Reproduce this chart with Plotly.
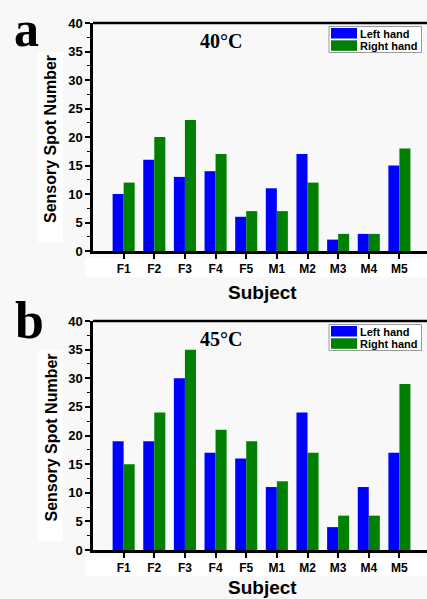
import plotly.graph_objects as go

subjects = ["F1", "F2", "F3", "F4", "F5", "M1", "M2", "M3", "M4", "M5"]
left_40 = [10, 16, 13, 14, 6, 11, 17, 2, 3, 15]
right_40 = [12, 20, 23, 17, 7, 7, 12, 3, 3, 18]
left_45 = [19, 19, 30, 17, 16, 11, 24, 4, 11, 17]
right_45 = [15, 24, 35, 21, 19, 12, 17, 6, 6, 29]
y_ticks = [0, 5, 10, 15, 20, 25, 30, 35, 40]
series_names = ["Left hand", "Right hand"]
panel_titles = ["40°C", "45°C"]
panel_letters = ["a", "b"]

BLUE = "#0000FF"
GREEN = "#008000"
COLORS = [BLUE, GREEN]
W, H = 427, 599
BG = "#f8f8f8"

fig = go.Figure()
for (ax, ay), (l, r) in zip([("x", "y"), ("x2", "y2")], [(left_40, right_40), (left_45, right_45)]):
    for vals, name, col in zip((l, r), series_names, COLORS):
        fig.add_trace(go.Bar(x=subjects, y=vals, name=name, marker_color=col,
                             marker_line_width=0, xaxis=ax, yaxis=ay, showlegend=False))

def py(px):
    return 1 - px / H

def px_x(px):
    return px / W

xdom = [93 / W, 1.0]
tickfont = dict(family="Liberation Sans", size=13, color="black", weight="bold")
xtickfont = dict(family="Liberation Sans", size=12, color="black", weight="bold")
title_font = dict(family="Liberation Sans", size=16, color="black", weight="bold")
subj_font = dict(family="Liberation Sans", size=19, color="black", weight="bold")

def xaxis(anchor):
    return dict(domain=xdom, anchor=anchor, range=[-1, 9.9], showline=True,
                linecolor="black", linewidth=2.5, ticks="outside", ticklen=5,
                tickwidth=1.5, tickcolor="black", tickfont=xtickfont,
                showgrid=False, zeroline=False, automargin=False)

def yaxis(anchor, dom):
    return dict(domain=dom, anchor=anchor, range=[0, 40], tickvals=y_ticks,
                showline=True, linecolor="black", linewidth=2.5, ticks="outside",
                ticklen=5, tickwidth=1.5, tickcolor="black", tickfont=tickfont,
                showgrid=False, zeroline=False, automargin=False,
                minor=dict(dtick=2.5, ticks="outside", ticklen=3, tickcolor="black", tickwidth=1))

panels = [dict(top=23, bottom=251), dict(top=321, bottom=550)]

fig.update_layout(
    width=W, height=H,
    margin=dict(l=0, r=0, t=0, b=0, autoexpand=False),
    paper_bgcolor=BG,
    plot_bgcolor=BG,
    barmode="group", bargap=0.28, bargroupgap=0,
    xaxis=xaxis("y"),
    yaxis=yaxis("x", [py(panels[0]["bottom"]), py(panels[0]["top"])]),
    xaxis2=xaxis("y2"),
    yaxis2=yaxis("x2", [py(panels[1]["bottom"]), py(panels[1]["top"])]),
    showlegend=False,
)

def note(text, x, y, font, xanchor="center", yanchor="middle", textangle=0):
    fig.add_annotation(text=text, xref="paper", yref="paper", x=px_x(x), y=py(y),
                       xanchor=xanchor, yanchor=yanchor, textangle=textangle,
                       showarrow=False, font=font, borderpad=0)

for i, p in enumerate(panels):
    t, b = p["top"], p["bottom"]
    xr = "x domain" if i == 0 else "x2 domain"
    yr = "y domain" if i == 0 else "y2 domain"
    # white label backgrounds
    fig.add_shape(type="rect", xref="paper", yref="paper", layer="below",
                  x0=px_x(38), x1=px_x(63), y0=py(t + 220), y1=py(t + 29),
                  fillcolor="white", line_width=0)
    fig.add_shape(type="rect", xref="paper", yref="paper", layer="below",
                  x0=px_x(85), x1=1, y0=py(b + 26), y1=py(b + 7),
                  fillcolor="white", line_width=0)
    # top frame line
    fig.add_shape(type="line", xref=xr, yref=yr, x0=0, x1=1, y0=1, y1=1,
                  line=dict(color="black", width=2.5))
    # axis titles
    note("Sensory Spot Number", 51, (t + b) / 2 + 2, title_font, textangle=-90)
    if i == 0:
        note("Subject", 262, b + 41, subj_font)
    else:
        note("Subject", 262, 599, subj_font, yanchor="bottom")
    # temperature label
    note(panel_titles[i], 221, t + 18,
         dict(family="Liberation Serif", size=20, color="black", weight="bold"))
    # panel letter
    if i == 0:
        note(panel_letters[i], 26, 0,
             dict(family="Liberation Serif", size=50, color="black", weight="bold"),
             yanchor="top")
    else:
        note(panel_letters[i], 29, t - 0.5,
             dict(family="Liberation Serif", size=52, color="black", weight="bold"))
    # legend (box, swatches, labels)
    lt = t + 3.5
    fig.add_shape(type="rect", xref="paper", yref="paper",
                  x0=px_x(329), x1=px_x(421.5), y0=py(lt + 26), y1=py(lt),
                  fillcolor="white", line=dict(color="#999999", width=1))
    for k, (name, col) in enumerate(zip(series_names, COLORS)):
        y0 = lt + 1.5 + k * 12.3
        fig.add_shape(type="rect", xref="paper", yref="paper",
                      x0=px_x(331), x1=px_x(357), y0=py(y0 + 10.5), y1=py(y0),
                      fillcolor=col, line_width=0)
        note(name, 359, y0 + 5.5,
             dict(family="Liberation Sans", size=11, color="black", weight="bold"),
             xanchor="left")

fig.write_html("out.html", config={"displayModeBar": False},
               post_script="document.body.style.margin='0';document.body.style.overflow='hidden';")
